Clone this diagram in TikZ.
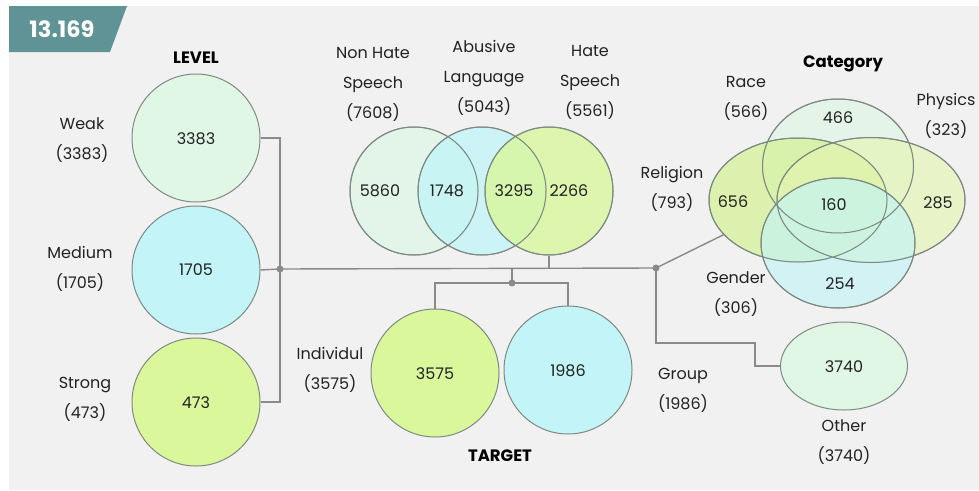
\documentclass[tikz,border=0pt]{standalone}
\usepackage{fontspec}
\setmainfont{Poppins}
\usetikzlibrary{shapes.geometric}
\definecolor{panel}{HTML}{F1F1F1}
\definecolor{tab}{HTML}{5F9395}
\definecolor{mint}{HTML}{E0F7E6}
\definecolor{cyanf}{HTML}{C3F4F7}
\definecolor{lime}{HTML}{DAF79C}
\definecolor{limer}{HTML}{D2F28A}
\definecolor{limel}{HTML}{E4F5B2}
\definecolor{edge}{HTML}{7D8A82}
\definecolor{conn}{HTML}{8A8A8A}
\definecolor{txt}{HTML}{222222}
\tikzset{
  lbl/.style={align=center, text=txt, font=\fontsize{16}{30}\selectfont},
  num/.style={text=txt, font=\fontsize{16}{19}\selectfont},
  ttl/.style={text=black, font=\bfseries\fontsize{16.5}{19}\selectfont},
  bigc/.style={circle, draw=edge, line width=1pt, minimum size=128pt, inner sep=0pt},
  vc/.style={circle, draw=edge, line width=1pt, minimum size=128pt, inner sep=0pt, fill opacity=0.8},
  ve/.style={ellipse, draw=edge, line width=1pt, inner sep=0pt, fill opacity=0.65},
  wire/.style={draw=conn, line width=1.4pt},
  jdot/.style={circle, fill=conn, minimum size=7pt, inner sep=0pt}
}
\begin{document}
\begin{tikzpicture}[x=1pt,y=-1pt]
\useasboundingbox (0,0) rectangle (979,490);
\fill[white] (0,0) rectangle (979,490);
\fill[panel] (9,6) rectangle (979,490);
\fill[tab] (9,6) -- (127,6) -- (110,52) -- (9,52) -- cycle;
\node[text=white, font=\bfseries\fontsize{22.5}{26}\selectfont] (badge) at (62,29) {13.169};

% LEVEL
\node[ttl] (tlevel) at (196,58) {LEVEL};
\node[bigc, fill=mint] (weak) at (196,138) {};
\node[bigc, fill=cyanf] (medium) at (196,270) {};
\node[bigc, fill=lime] (strong) at (196,402) {};
\node[num] (nweak) at (196,139) {3383};
\node[num] (nmedium) at (196,270) {1705};
\node[num] (nstrong) at (196,403) {473};
\node[lbl] (lweak) at (82,140) {Weak\\(3383)};
\node[lbl] (lmedium) at (80,269) {Medium\\(1705)};
\node[lbl] (lstrong) at (85,399) {Strong\\(473)};

\coordinate (lvj) at (280,269);
\coordinate (catj) at (656,268);
\coordinate (tj) at (512,283);
\coordinate (ob) at (755,343);

% Hate venn
\node[vc, fill=mint] (nh) at (414,191) {};
\node[vc, fill=cyanf] (ab) at (482,191) {};
\node[vc, fill=lime] (hs) at (549,191) {};
\draw[edge, line width=1pt] (414,191) circle (64) (482,191) circle (64) (549,191) circle (64);
\node[num] (n5860) at (380,191) {5860};
\node[num] (n1748) at (447,191) {1748};
\node[num] (n3295) at (514,191) {3295};
\node[num] (n2266) at (569,191) {2266};
\node[lbl] (lnh) at (373,84) {Non Hate\\Speech\\(7608)};
\node[lbl] (lab) at (484,78) {Abusive\\Language\\(5043)};
\node[lbl] (lhs) at (590,82) {Hate\\Speech\\(5561)};

% TARGET
\node[bigc, fill=lime] (ind) at (435,373) {};
\node[bigc, fill=cyanf] (grp) at (568,370) {};
\node[num] (nind) at (435,374) {3575};
\node[num] (ngrp) at (568,371) {1986};
\node[lbl] (lind) at (330,370) {Individul\\(3575)};
\node[lbl] (lgrp) at (683,390) {Group\\(1986)};
\node[ttl] (ttarget) at (500,456) {TARGET};

% Category
\node[ttl] (tcat) at (843,64) {Category};
\node[ve, fill=mint, minimum width=151pt, minimum height=134pt] (race) at (838,166) {};
\node[ve, fill=limer, minimum width=178pt, minimum height=124pt] (rel) at (798,200) {};
\node[ve, fill=limel, minimum width=188pt, minimum height=125pt] (phy) at (871,200) {};
\node[ve, fill=cyanf, minimum width=154pt, minimum height=130pt] (gen) at (838,243) {};
\draw[edge, line width=1pt] (838,166) ellipse (75.5 and 67) (798,200) ellipse (89 and 62)
  (871,200) ellipse (94 and 62.5) (838,243) ellipse (77 and 65);
\node[num] (n466) at (838,118) {466};
\node[num] (n656) at (733,202) {656};
\node[num] (n160) at (834,205) {160};
\node[num] (n285) at (938,203) {285};
\node[num] (n254) at (840,284) {254};
\node[lbl] (lrace) at (746,98) {Race\\(566)};
\node[lbl] (lphy) at (946,116) {Physics\\(323)};
\node[lbl] (lrel) at (672,189) {Religion\\(793)};
\node[lbl] (lgen) at (736,294) {Gender\\(306)};
\node[ve, fill=mint, fill opacity=1, minimum width=127pt, minimum height=88pt] (other) at (844,366) {};
\node[num] (nother) at (844,367) {3740};
\node[lbl] (lother) at (844,442) {Other\\(3740)};

% connectors
\draw[wire] (weak.east) -| (lvj);
\draw[wire] (strong.east) -| (lvj);
\draw[wire] (medium.east) -- (lvj);
\draw[wire] (lvj) -- (catj);
\draw[wire] (hs.south) -- (hs.south |- lvj);
\draw[wire] (tj |- lvj) -- (tj);
\draw[wire] (ind.north) |- (tj) -| (grp.north);
\draw[wire] (catj) -- (rel.205);
\draw[wire] (catj) |- (ob) |- (other.west);
\node[jdot] (dlv) at (lvj) {};
\node[jdot] (dcat) at (catj) {};
\node[jdot] (dt) at (tj) {};
\end{tikzpicture}
\end{document}
